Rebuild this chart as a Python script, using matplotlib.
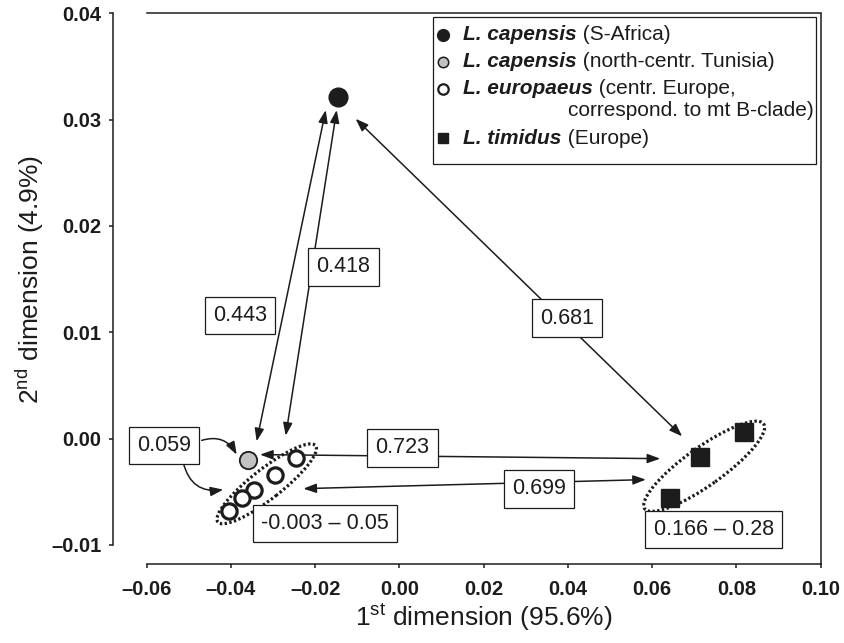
import matplotlib
matplotlib.use('Agg')
import matplotlib.pyplot as plt
from matplotlib.patches import Ellipse, Rectangle
from matplotlib.transforms import ScaledTranslation
from matplotlib.lines import Line2D
from matplotlib.text import Annotation

plt.rcParams['font.family'] = ['Liberation Sans', 'DejaVu Sans']
plt.rcParams['mathtext.fontset'] = 'custom'
plt.rcParams['mathtext.rm'] = 'Liberation Sans'
plt.rcParams['mathtext.it'] = 'Liberation Sans:italic'
plt.rcParams['mathtext.bf'] = 'Liberation Sans:bold'

# ---------------- data ----------------
safrica_x = [-0.0146]
safrica_y = [0.0321]
tunisia_x = [-0.0359]
tunisia_y = [-0.00197]
europaeus_x = [-0.0246, -0.0295, -0.0345, -0.0374, -0.0404]
europaeus_y = [-0.00181, -0.00338, -0.00486, -0.00557, -0.00683]
timidus_x = [0.0819, 0.0713, 0.0642]
timidus_y = [0.00063, -0.00172, -0.00557]

distance_labels = ['0.443', '0.418', '0.681', '0.723', '0.699', '0.059']
range_labels = ['-0.003 \u2013 0.05', '0.166 \u2013 0.28']

xtick_values = [-0.06, -0.04, -0.02, 0.00, 0.02, 0.04, 0.06, 0.08, 0.10]
xtick_labels = ['\u20130.06', '\u20130.04', '\u20130.02', '0.00', '0.02', '0.04', '0.06', '0.08', '0.10']
ytick_values = [-0.01, 0.00, 0.01, 0.02, 0.03, 0.04]
ytick_labels = ['\u20130.01', '0.00', '0.01', '0.02', '0.03', '0.04']

legend_species = ['L. capensis', 'L. capensis', 'L. europaeus', 'L. timidus']
legend_desc = [' (S-Africa)', ' (north-centr. Tunisia)', ' (centr. Europe,', ' (Europe)']
legend_desc2 = 'correspond. to mt B-clade)'

xlabel = '1$^{\\mathrm{st}}$ dimension (95.6%)'
ylabel = '2$^{\\mathrm{nd}}$ dimension (4.9%)'

# ---------------- annotation layout ----------------
dist_label_pos = [(-0.0379, 0.01161), (-0.0133, 0.01615), (0.0397, 0.01134),
                  (0.0007, -0.00087), (0.0332, -0.00472), (-0.0559, -0.00066)]
range_label_pos = [(-0.0177, -0.0080), (0.0746, -0.00854)]
straight_arrows = [((-0.0339, -0.00025), (-0.0175, 0.0309)),
                   ((-0.0270, 0.00028), (-0.0149, 0.0309)),
                   ((-0.0104, 0.03008), (0.0671, 0.00022)),
                   ((-0.0331, -0.0015), (0.0619, -0.00188)),
                   ((-0.0228, -0.0047), (0.0585, -0.00385))]
curved_arrows = [((-0.04694, -0.00016), (-0.03864, -0.0015), -0.4),
                 ((-0.0513, -0.00228), (-0.04182, -0.00479), 0.45)]
# ellipses: centre (data), width/height in pixels, angle
group_ellipses = [((-0.03151, -0.00425), 124, 30, 38),
                  ((0.07234, -0.0026), 146, 38, 35.5)]

K = '#1c1c1c'
W, H = 844, 643

fig = plt.figure(figsize=(W / 100, H / 100), dpi=100)
ax_left, ax_top, ax_right, ax_bottom = 146.7, 13.3, 820.7, 545.0
ax = fig.add_axes([ax_left / W, 1 - ax_bottom / H, (ax_right - ax_left) / W, (ax_bottom - ax_top) / H])
ax.set_xlim(-0.06, 0.10)
ax.set_ylim(-0.01, 0.04)


def F(px, py):
    return (px / W, 1 - py / H)


# spines
for s in ax.spines.values():
    s.set_linewidth(1.1)
    s.set_color(K)
ax.spines['left'].set_position(('outward', 24))
ax.spines['bottom'].set_position(('outward', 14))
ax.spines['right'].set_visible(False)
ax.plot([1, 1], [1, -19.5 / (ax_bottom - ax_top)], transform=ax.transAxes,
        clip_on=False, color=K, lw=1.1, solid_capstyle='butt')

ax.set_xticks(xtick_values)
ax.set_xticklabels(xtick_labels)
ax.set_yticks(ytick_values)
ax.set_yticklabels(ytick_labels)
ax.tick_params(direction='out', length=3, width=1.1, color=K, labelsize=14.5,
               labelcolor=K)
ax.tick_params(axis='x', pad=8)
ax.tick_params(axis='y', pad=5.5)
for lab in ax.get_xticklabels() + ax.get_yticklabels():
    lab.set_fontweight('bold')

ax.set_xlabel(xlabel, fontsize=19, color=K, va='center')
ax.xaxis.set_label_coords(0.5, (ax_bottom - 618) / (ax_bottom - ax_top))
ax.set_ylabel(ylabel, fontsize=19, color=K, va='center')
ax.yaxis.set_label_coords((29.5 - ax_left) / (ax_right - ax_left), 0.5)

# group ellipses
for (cx, cy), ew, eh, ang in group_ellipses:
    e = Ellipse((0, 0), ew, eh, angle=ang, fill=False, ec=K, lw=2.3,
                linestyle=(0, (0.75, 0.75)),
                transform=ScaledTranslation(cx, cy, ax.transData), zorder=2)
    ax.add_patch(e)

# arrows
for start, end in straight_arrows:
    ax.annotate('', xy=end, xytext=start,
                arrowprops=dict(arrowstyle='<|-|>,head_length=0.55,head_width=0.2',
                                mutation_scale=14, lw=1.1, color=K,
                                shrinkA=0, shrinkB=0), zorder=2)
for start, end, rad in curved_arrows:
    ax.annotate('', xy=end, xytext=start,
                arrowprops=dict(arrowstyle='-|>,head_length=0.55,head_width=0.2',
                                mutation_scale=14, lw=1.1, color=K,
                                shrinkA=0, shrinkB=0,
                                connectionstyle='arc3,rad=%s' % rad), zorder=2)

# points
ax.plot(safrica_x, safrica_y, 'o', ms=13.5, color=K, zorder=4)
ax.plot(tunisia_x, tunisia_y, 'o', ms=12.5, mfc='#c2c2c2', mec=K, mew=1.3, zorder=4)
ax.plot(europaeus_x, europaeus_y, 'o', ms=11, mfc='white', mec=K, mew=2.3, zorder=4)
ax.plot(timidus_x, timidus_y, 's', ms=12.5, color=K, zorder=4)

# label boxes
box = dict(boxstyle='square,pad=0.38', fc='white', ec=K, lw=0.9)
for s, (x, y) in zip(distance_labels, dist_label_pos):
    ax.text(x, y, s, ha='center', va='center', fontsize=15.5, color=K, bbox=box, zorder=5)
for s, (x, y) in zip(range_labels, range_label_pos):
    ax.text(x, y, s, ha='center', va='center', fontsize=15.5, color=K, bbox=box, zorder=5)

# legend (drawn by hand)
x0, y0 = F(432.7, 164)
x1, y1 = F(816, 16.7)
fig.add_artist(Rectangle((x0, y0), x1 - x0, y1 - y0, transform=fig.transFigure,
                         fc='white', ec=K, lw=0.9, zorder=1))
row_y = [35, 61.7, 89, 138.3]
leg_markers = [dict(marker='o', ms=8.5, color=K),
               dict(marker='o', ms=7.5, mfc='#c2c2c2', mec=K, mew=1.1),
               dict(marker='o', ms=7.5, mfc='white', mec=K, mew=1.6),
               dict(marker='s', ms=7.5, color=K)]
for sp, desc, ry, mk in zip(legend_species, legend_desc, row_y, leg_markers):
    mx, my = F(443.3, ry)
    fig.add_artist(Line2D([mx], [my], transform=fig.transFigure, linestyle='none',
                          zorder=2, **mk))
    tx, ty = F(463.3, ry)
    t1 = fig.text(tx, ty, sp, fontsize=15, fontweight='bold', fontstyle='italic',
                  ha='left', va='center', color=K, zorder=3)
    a = Annotation(desc, xy=(1, 0.5), xycoords=t1, fontsize=15, ha='left',
                   va='center', color=K, annotation_clip=False)
    a.set_zorder(3)
    fig.add_artist(a)
tx, ty = F(814, 111)
fig.text(tx, ty, legend_desc2, fontsize=15, ha='right', va='center', color=K, zorder=3)

fig.savefig('out.png', dpi=100)
